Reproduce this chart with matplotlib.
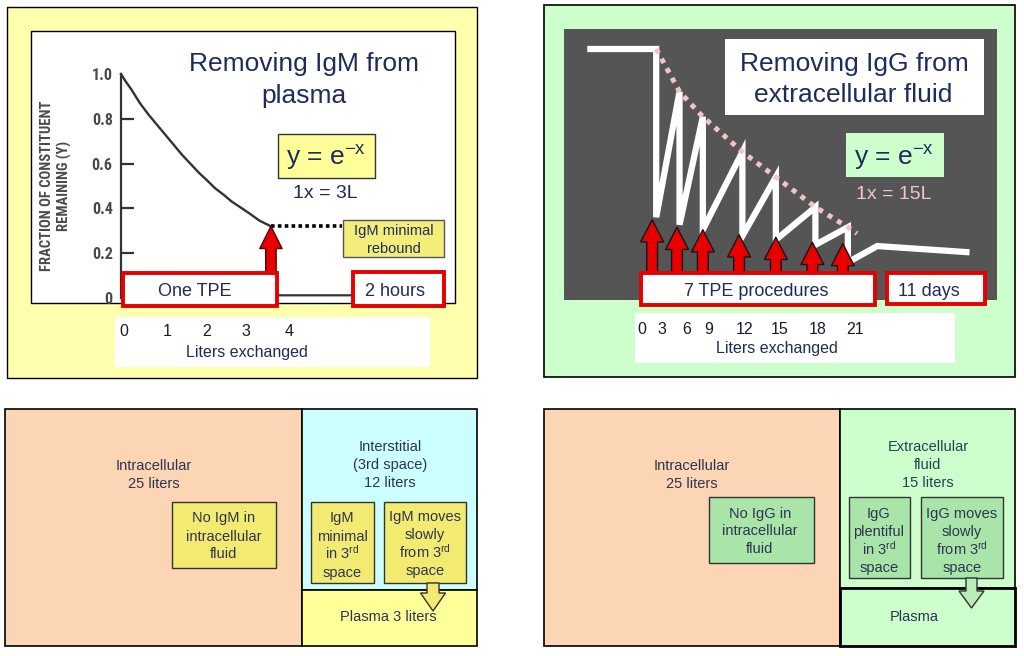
import matplotlib
matplotlib.use('Agg')
import matplotlib.pyplot as plt
from matplotlib.patches import Rectangle, Polygon, FancyArrowPatch, ArrowStyle
from matplotlib.transforms import blended_transform_factory
from matplotlib import font_manager

plt.rcParams['font.family'] = ['Liberation Sans', 'DejaVu Sans']
plt.rcParams['mathtext.fontset'] = 'custom'
plt.rcParams['mathtext.rm'] = 'Liberation Sans'
plt.rcParams['mathtext.it'] = 'Liberation Sans:italic'
plt.rcParams['mathtext.bf'] = 'Liberation Sans:bold'

# ---------------- data ----------------
# IgM: fraction of constituent remaining vs liters exchanged (one TPE)
igm_liters = [0.0, 0.1, 0.25, 0.45, 0.65, 0.85, 1.05, 1.25, 1.45, 1.65, 1.85,
              2.05, 2.24, 2.45, 2.64, 2.84, 3.04, 3.3, 3.57]
igm_frac = [1.0, 0.97, 0.93, 0.87, 0.82, 0.775, 0.73, 0.685, 0.64, 0.60, 0.56,
            0.525, 0.49, 0.46, 0.43, 0.405, 0.38, 0.345, 0.32]
igm_after_liters = [3.57, 3.62, 7.6]
igm_after_frac = [0.32, 0.012, 0.012]
igm_rebound_liters = [3.57, 5.25]
igm_rebound_frac = [0.32, 0.32]
igm_arrow_base = 0.11
igm_yticks = [0, 0.2, 0.4, 0.6, 0.8, 1.0]
igm_ytick_labels = ['0', '0.2', '0.4', '0.6', '0.8', '1.0']
igm_xtick_pos = [0.07, 1.1, 2.05, 2.98, 4.0]
igm_xtick_labels = ['0', '1', '2', '3', '4']

# IgG: sawtooth of 7 TPE procedures with rebound
igg_start_liters = -5.4
igg_peak_liters = [1.4, 3.7, 6.0, 9.9, 13.2, 17.1, 20.3]
igg_peak_frac = [1.0, 0.83, 0.73, 0.59, 0.49, 0.37, 0.29]
igg_trough_frac = [0.33, 0.30, 0.28, 0.255, 0.24, 0.22, 0.15]
igg_after_liters = [23.2, 32.3]
igg_after_frac = [0.215, 0.19]
igg_env_liters = [1.4, 3.7, 6.0, 9.9, 13.2, 17.1, 20.3, 21.2]
igg_env_frac = [1.0, 0.83, 0.73, 0.59, 0.49, 0.37, 0.29, 0.265]
igg_tpe_liters = [1.0, 3.45, 6.0, 9.57, 13.2, 16.8, 19.8]
igg_tpe_tip = [0.32, 0.29, 0.28, 0.26, 0.25, 0.23, 0.225]
igg_arrow_base = 0.1
igg_xtick_pos = [0, 1.97, 4.44, 6.61, 10.16, 13.6, 17.36, 21.0]
igg_xtick_labels = ['0', '3', '6', '9', '12', '15', '18', '21']

# ---------------- style ----------------
NAVY = '#1F2B5E'
DARK = '#2E3450'
RED = '#E60000'
W, H = 1024, 656

# pick a condensed face for the scanned-axis lettering if one is installed
fonts = font_manager.fontManager.ttflist
names = {f.name for f in fonts}
cond_kw = None
for cand in ['Liberation Sans Narrow', 'Roboto Condensed', 'Open Sans Condensed',
             'DejaVu Sans Condensed', 'Noto Sans Condensed']:
    if cand in names:
        cond_kw = dict(family=[cand, 'Liberation Sans'])
        break
if cond_kw is None:
    for f in fonts:
        if f.name in ('DejaVu Sans', 'Noto Sans', 'Open Sans', 'Roboto') and 'condensed' in str(f.stretch):
            cond_kw = dict(family=[f.name], fontstretch='condensed')
            break
CONDENSED = cond_kw is not None
if cond_kw is None:
    cond_kw = dict(family=['Liberation Sans'])

fig = plt.figure(figsize=(W / 100, H / 100), dpi=100)
fig.patch.set_facecolor('white')


def px_axes(x0, y0, x1, y1, z):
    ax = fig.add_axes([x0 / W, 1 - y1 / H, (x1 - x0) / W, (y1 - y0) / H])
    ax.set_zorder(z)
    return ax


bg = px_axes(0, 0, W, H, 0)
bg.set_xlim(0, W); bg.set_ylim(H, 0); bg.axis('off')
top = px_axes(0, 0, W, H, 5)
top.set_xlim(0, W); top.set_ylim(H, 0); top.axis('off')


def rect(ax, x0, y0, x1, y1, fc, ec='none', lw=0.0, z=1):
    ax.add_patch(Rectangle((x0, y0), x1 - x0, y1 - y0, facecolor=fc,
                           edgecolor=ec, linewidth=lw, zorder=z))


def txt(ax, x, y, s, fs, color, z=6, **kw):
    # y is the visual centre of the capitals; place by baseline
    base = y + 0.36 * fs * 100 / 72
    ax.text(x, base, s, fontsize=fs, color=color, ha='center', va='baseline',
            zorder=z, **kw)


def lines(ax, x, ys, items, fs, color):
    for yy, s in zip(ys, items):
        txt(ax, x, yy, s, fs, color)


def down_arrow(ax, cx, y0, yh, y1, sw, hw, fc):
    pts = [(cx - sw / 2, y0), (cx + sw / 2, y0), (cx + sw / 2, yh), (cx + hw / 2, yh),
           (cx, y1), (cx - hw / 2, yh), (cx - sw / 2, yh)]
    ax.add_patch(Polygon(pts, closed=True, facecolor=fc, edgecolor='#333333',
                         linewidth=1.0, zorder=5))


# ---------------- panel backgrounds ----------------
rect(bg, 7, 7, 477, 378, '#FFFFAD', 'black', 1.0)
rect(bg, 31, 31, 455, 303, 'white', 'black', 1.0, z=2)
rect(bg, 115, 317, 430, 367, 'white', z=2)

rect(bg, 544, 5, 1015, 377, '#CCFFCC', 'black', 1.2)
rect(bg, 564, 29, 997, 300, '#555555', z=2)
rect(bg, 635, 313, 955, 363, 'white', z=2)

# ---------------- IgM chart ----------------
ax1 = px_axes(31, 31, 455, 303, 2)
ax1.set_xlim((31 - 121) / 42, (455 - 121) / 42)
ax1.set_ylim((298 - 303) / 224, (298 - 31) / 224)
ax1.patch.set_visible(False)
for s in ['top', 'right', 'bottom']:
    ax1.spines[s].set_visible(False)
ax1.spines['left'].set_position(('data', 0))
ax1.spines['left'].set_bounds(0, 1.0)
ax1.spines['left'].set_linewidth(1.6)
ax1.spines['left'].set_color('#333333')
ax1.set_xticks([])
ax1.set_yticks(igm_yticks, igm_ytick_labels)
ax1.tick_params(axis='y', direction='in', length=9.5, width=1.6, color='#333333',
                pad=6, labelsize=11.5 if CONDENSED else 10.5, labelcolor='#4a4a4a')
for lab in ax1.get_yticklabels():
    lab.set_fontweight('bold')
    lab.set_family(cond_kw['family'])
    if 'fontstretch' in cond_kw:
        lab.set_fontstretch(cond_kw['fontstretch'])
ticks = ax1.yaxis.get_major_ticks()
ticks[0].tick1line.set_visible(False)
ticks[-1].tick1line.set_visible(False)

ax1.plot(igm_liters, igm_frac, color='#333333', lw=1.7, zorder=3)
ax1.plot(igm_after_liters, igm_after_frac, color='#333333', lw=1.6, zorder=3)
ax1.plot(igm_rebound_liters, igm_rebound_frac, color='black', lw=2.6,
         linestyle=(0, (1, 0.9)), dash_capstyle='butt', zorder=3)
ax1.add_patch(FancyArrowPatch((igm_liters[-1], igm_arrow_base), (igm_liters[-1], igm_frac[-1]),
                              arrowstyle=ArrowStyle.Simple(head_length=16, head_width=16, tail_width=7.5),
                              mutation_scale=1, facecolor=RED, edgecolor='#5a0000', linewidth=1.0,
                              shrinkA=0, shrinkB=0, zorder=4, clip_on=False))

tr1 = blended_transform_factory(ax1.transData, bg.transData)
for xp, lab in zip(igm_xtick_pos, igm_xtick_labels):
    ax1.text(xp, 331, lab, transform=tr1, fontsize=11.5, color='#1a1a2e',
             ha='center', va='center', clip_on=False)
ax1.text(igm_xtick_pos[2] + 0.95, 352, 'Liters exchanged', transform=tr1, fontsize=11.5,
         color=NAVY, ha='center', va='center', clip_on=False)

bg.text(56, 186, 'FRACTION OF CONSTITUENT\nREMAINING (Y)', rotation=90, ha='center',
        va='center', fontsize=10.5 if CONDENSED else 8.6, fontweight='bold', color='#4a4a4a',
        linespacing=1.3, zorder=3, **cond_kw)

# ---------------- IgG chart ----------------
ax2 = px_axes(564, 29, 997, 300, 2)
ax2.set_xlim((564 - 642) / 10.14, (997 - 642) / 10.14)
ax2.set_ylim(0, (300 - 29) / 251)
ax2.axis('off')

xs = [igg_start_liters]
ys = [igg_peak_frac[0]]
for xp, pk, tro in zip(igg_peak_liters, igg_peak_frac, igg_trough_frac):
    xs += [xp, xp]
    ys += [pk, tro]
xs += igg_after_liters
ys += igg_after_frac
ax2.plot(xs, ys, color='white', lw=4.5, solid_joinstyle='miter', solid_capstyle='butt',
         zorder=2, clip_on=False)
ax2.plot(igg_env_liters, igg_env_frac, color='#F4C4C4', lw=3.6,
         linestyle=(0, (1, 1.2)), dash_capstyle='butt', zorder=3, clip_on=False)
for xp, tip in zip(igg_tpe_liters, igg_tpe_tip):
    ax2.add_patch(FancyArrowPatch((xp, igg_arrow_base), (xp, tip),
                                  arrowstyle=ArrowStyle.Simple(head_length=16, head_width=16.5, tail_width=7.8),
                                  mutation_scale=1, facecolor=RED, edgecolor='#151515', linewidth=1.0,
                                  shrinkA=0, shrinkB=0, zorder=4, clip_on=False))

tr2 = blended_transform_factory(ax2.transData, bg.transData)
for xp, lab in zip(igg_xtick_pos, igg_xtick_labels):
    ax2.text(xp, 330, lab, transform=tr2, fontsize=11.5, color='#1a1a2e',
             ha='center', va='center', clip_on=False)
ax2.text(13.3, 349, 'Liters exchanged', transform=tr2, fontsize=11.5,
         color=NAVY, ha='center', va='center', clip_on=False)

# ---------------- top-left annotations ----------------
txt(top, 304, 62, 'Removing IgM from', 19, NAVY)
txt(top, 304, 94, 'plasma', 19, NAVY)
rect(top, 278, 134, 375, 178, '#FFFF99', '#333333', 1.0, z=5)
txt(top, 326, 155, r'y = e$^{\mathrm{-x}}$', 19, NAVY)
txt(top, 325, 191, '1x = 3L', 14, NAVY)
rect(top, 343, 220, 444, 257, '#F3EE7A', '#555555', 1.0, z=5)
lines(top, 393.5, [230, 248], ['IgM minimal', 'rebound'], 10.5, NAVY)
rect(top, 123, 273, 277, 306, 'white', RED, 2.8, z=5)
txt(top, 195, 290, 'One TPE', 13, NAVY)
rect(top, 353, 272, 444, 306, 'white', RED, 2.8, z=5)
txt(top, 395, 290, '2 hours', 13, NAVY)

# ---------------- top-right annotations ----------------
rect(top, 725, 39, 984, 115, 'white', z=5)
txt(top, 854, 62, 'Removing IgG from', 19, NAVY)
txt(top, 853, 93, 'extracellular fluid', 19, NAVY)
rect(top, 846, 133, 944, 177, '#CCFFCC', z=5)
txt(top, 894, 155, r'y = e$^{\mathrm{-x}}$', 19, NAVY)
txt(top, 894, 192, '1x = 15L', 14, '#F2C6C6')
rect(top, 641, 273, 875, 305, 'white', RED, 2.8, z=5)
txt(top, 756, 290, '7 TPE procedures', 13, NAVY)
rect(top, 887, 273, 985, 304, 'white', RED, 2.8, z=5)
txt(top, 929, 289, '11 days', 13, NAVY)

# ---------------- bottom-left (IgM compartments) ----------------
rect(top, 5, 409, 302, 646, '#FCD5B4', 'black', 1.2, z=2)
rect(top, 302, 409, 477, 590, '#CCFFFF', 'black', 1.2, z=2)
rect(top, 302, 590, 477, 646, '#FFFF99', 'black', 1.2, z=2)
lines(top, 154, [465, 483], ['Intracellular', '25 liters'], 10.5, DARK)
rect(top, 172, 502, 276, 568, '#F3EB71', '#333333', 1.0, z=4)
lines(top, 224, [517, 536, 553], ['No IgM in', 'intracellular', 'fluid'], 10.5, DARK)
lines(top, 390, [446, 464, 482], ['Interstitial', '(3rd space)', '12 liters'], 10.5, DARK)
rect(top, 311, 502, 374, 583, '#F3EB71', '#333333', 1.0, z=4)
lines(top, 342, [517, 536, 553, 572], ['IgM', 'minimal', r'in 3$^{\mathrm{rd}}$', 'space'], 10.5, DARK)
rect(top, 384, 502, 466, 583, '#F3EB71', '#333333', 1.0, z=4)
lines(top, 425, [516, 534, 552, 570], ['IgM moves', 'slowly', r'from 3$^{\mathrm{rd}}$', 'space'], 10.5, DARK)
down_arrow(top, 433, 583, 593, 611, 12, 25, '#F3EB71')
txt(top, 388, 616, 'Plasma 3 liters', 10.5, DARK)

# ---------------- bottom-right (IgG compartments) ----------------
rect(top, 544, 409, 840, 646, '#FCD5B4', 'black', 1.2, z=2)
rect(top, 840, 409, 1015, 588, '#CCFFCC', 'black', 1.2, z=2)
rect(top, 840, 588, 1015, 646, '#CCFFCC', 'black', 2.0, z=2)
lines(top, 692, [465, 483], ['Intracellular', '25 liters'], 10.5, DARK)
rect(top, 709, 497, 814, 563, '#A9E5A9', '#333333', 1.0, z=4)
lines(top, 760, [513, 530, 548], ['No IgG in', 'intracellular', 'fluid'], 10.5, DARK)
lines(top, 928, [446, 464, 482], ['Extracellular', 'fluid', '15 liters'], 10.5, '#24434F')
rect(top, 849, 497, 910, 578, '#A9E5A9', '#333333', 1.0, z=4)
lines(top, 879, [513, 531, 549, 567], ['IgG', 'plentiful', r'in 3$^{\mathrm{rd}}$', 'space'], 10.5, DARK)
rect(top, 921, 497, 1003, 578, '#A9E5A9', '#333333', 1.0, z=4)
lines(top, 962, [513, 531, 549, 567], ['IgG moves', 'slowly', r'from 3$^{\mathrm{rd}}$', 'space'], 10.5, DARK)
down_arrow(top, 971.5, 578, 591, 608, 11, 25, '#B8ECB8')
txt(top, 914, 616, 'Plasma', 10.5, DARK)

fig.savefig('out.png', dpi=100, facecolor='white')
